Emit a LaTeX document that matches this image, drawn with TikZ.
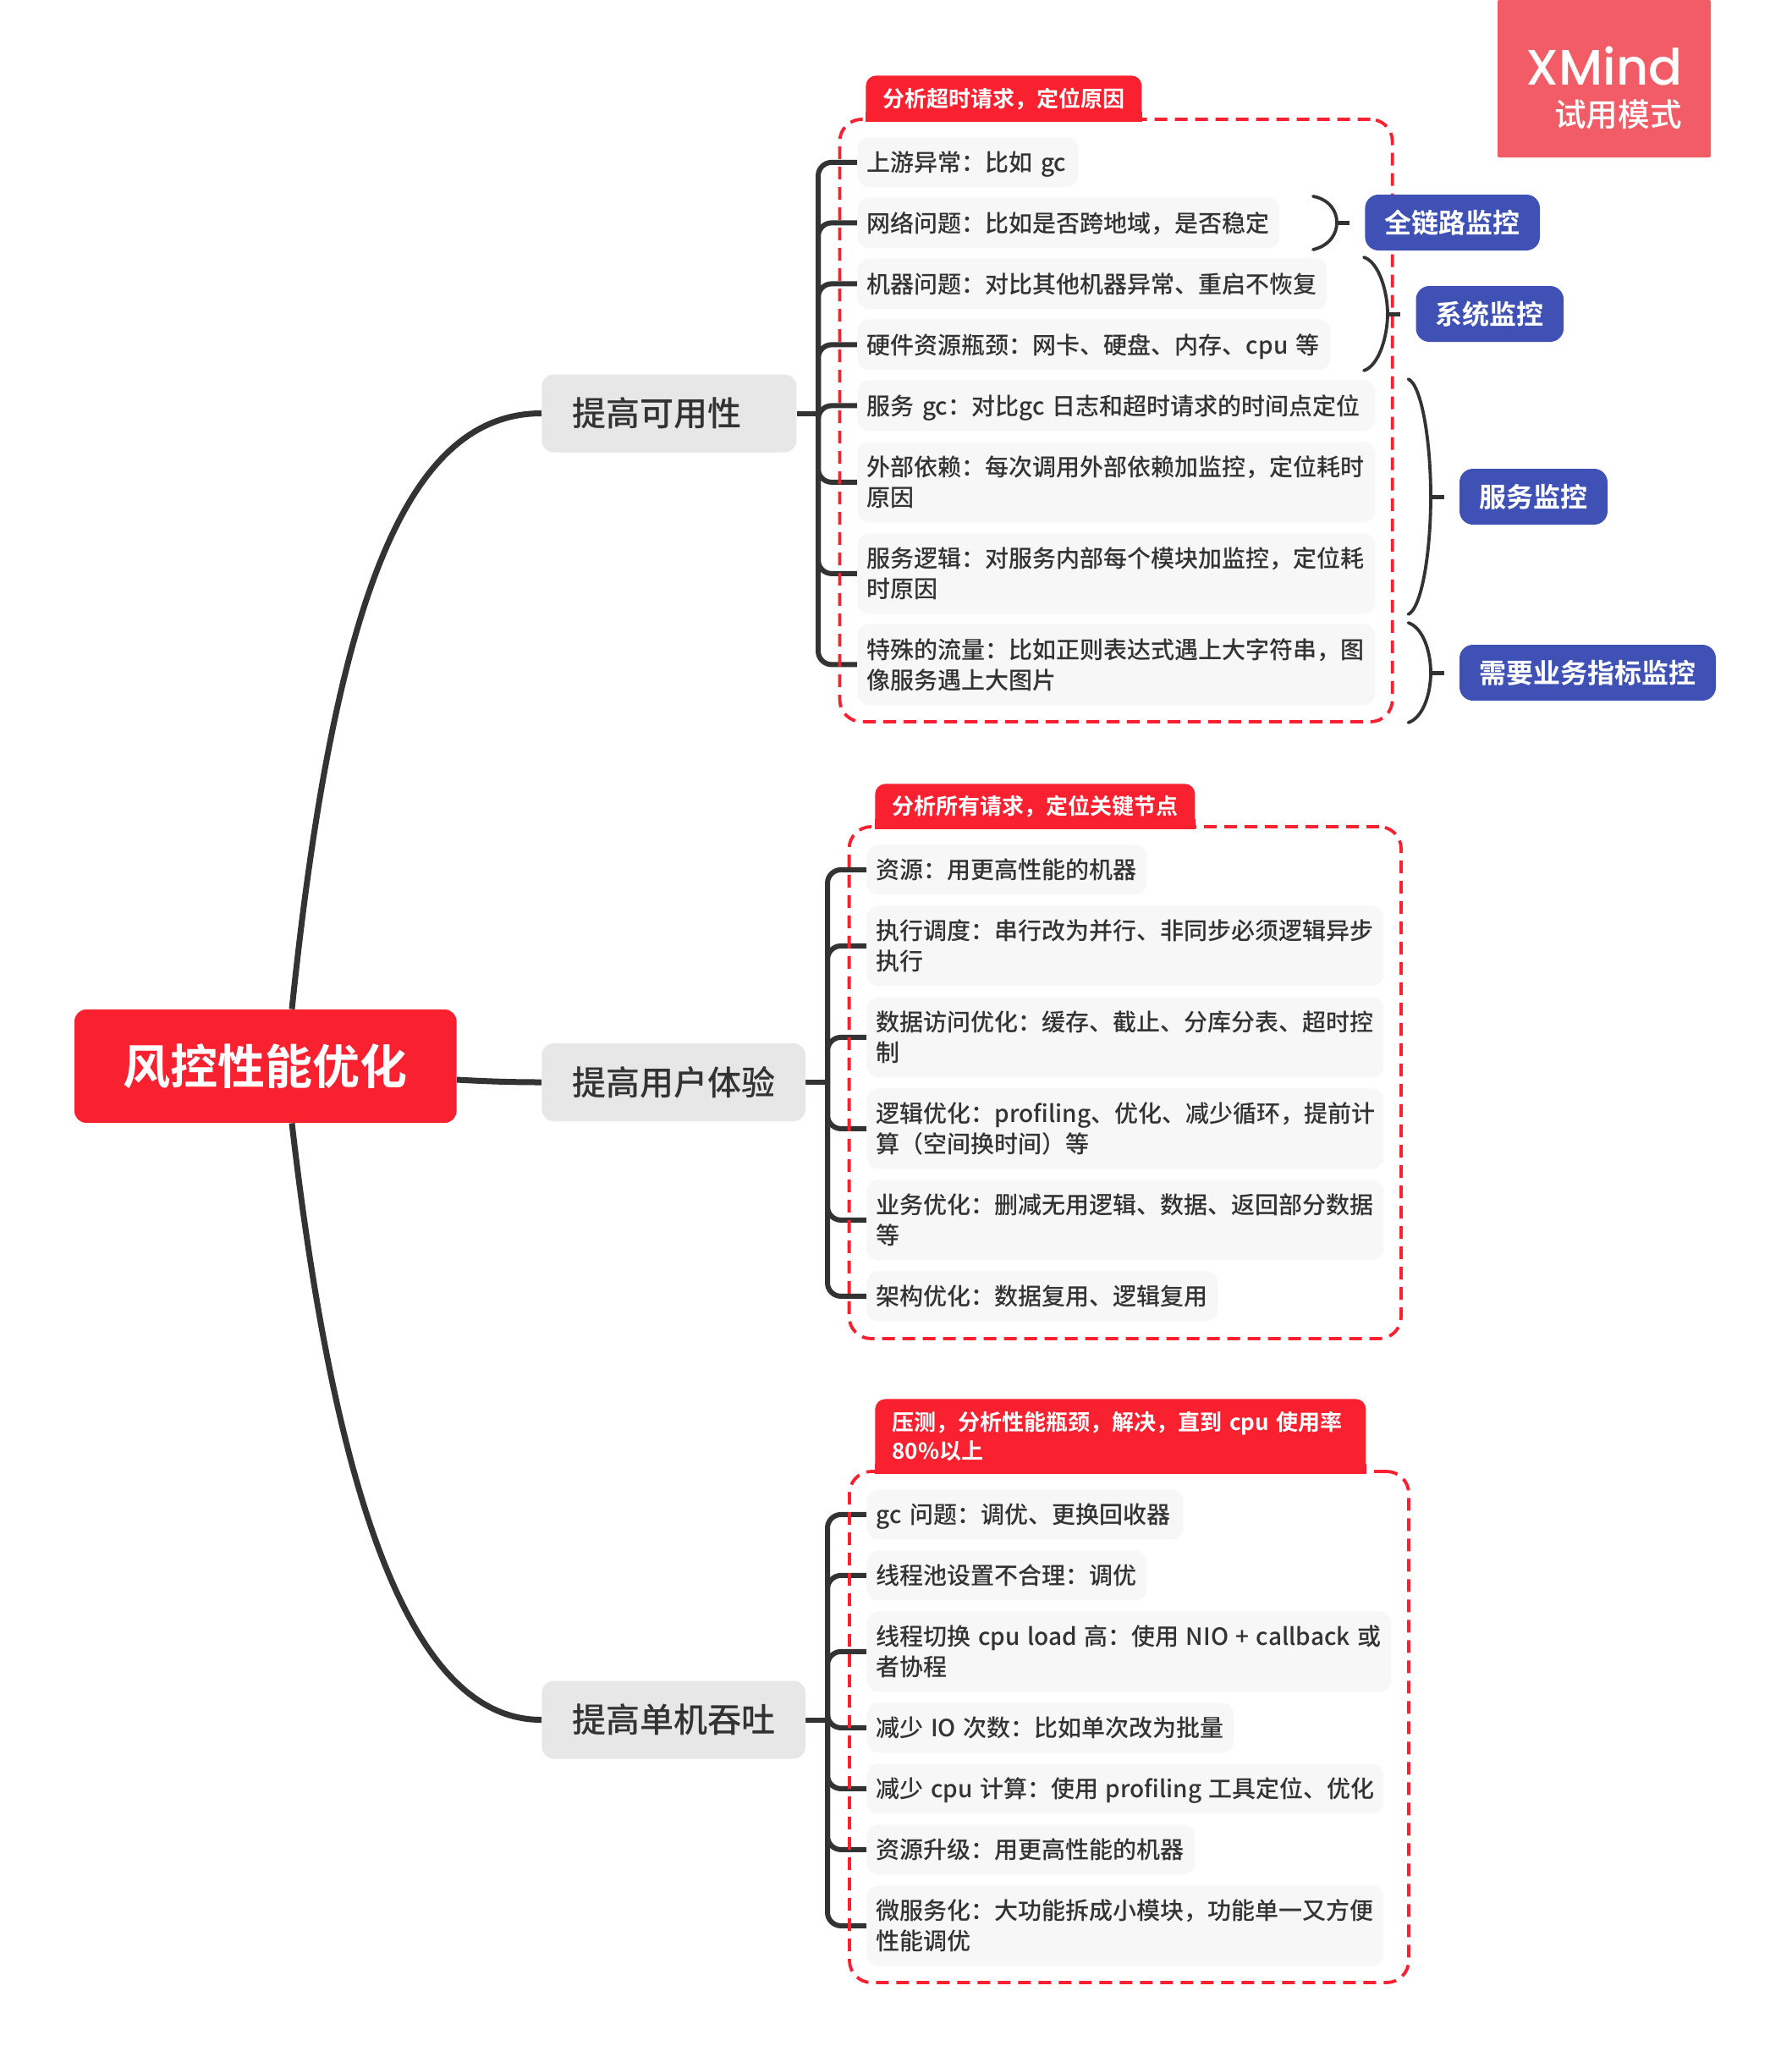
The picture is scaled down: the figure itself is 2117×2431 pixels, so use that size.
\documentclass[tikz,border=0pt]{standalone}
\usepackage{fontspec}
\setmainfont{Noto Sans CJK SC Medium}[BoldFont={Noto Sans CJK SC Bold}]
\newfontfamily\xmfont{Poppins Medium}
\usetikzlibrary{backgrounds}
\definecolor{ink}{HTML}{333333}
\definecolor{leafgray}{HTML}{F7F7F7}
\definecolor{topicgray}{HTML}{E7E7E7}
\definecolor{xred}{HTML}{F9212F}
\definecolor{xblue}{HTML}{3F51B5}
\definecolor{wmred}{HTML}{F25C66}
\newcommand\leafstrut{\lefthyphenmin=62\hyphenpenalty=10000\exhyphenpenalty=10000\rule[-3.7pt]{0pt}{18pt}}
\newcommand\leaftight{\spaceskip=4.2pt\relax\leafstrut}
\newcommand\leafend{\rule[-3.7pt]{0pt}{18pt}}
\newcommand\labelstrut{\rule[-3.56pt]{0pt}{17pt}}
\tikzset{
  leaf/.style 2 args={anchor=north west,fill=leafgray,text=ink,rounded corners=7pt,inner xsep=5.75pt,inner ysep=0pt,
    text width={(#1-23)*0.5pt},minimum height={#2*0.5pt},align=left,font=\fontsize{14}{18}\selectfont,
    execute at begin node=\leafstrut,execute at end node=\leafend},
  tightspace/.style={execute at begin node=\leaftight},
  topic/.style={anchor=west,fill=topicgray,text=ink,rounded corners=7pt,inner xsep=18pt,inner ysep=0pt,
    text width={(#1-72)*0.5pt},minimum height=46pt,align=left,font=\fontsize{20}{24}\selectfont},
  rootbox/.style={fill=xred,text=white,rounded corners=7pt,inner sep=0pt,font=\fontsize{28}{32}\selectfont\bfseries},
  callout/.style={fill=xblue,text=white,rounded corners=8pt,inner sep=0pt,minimum height=33pt,font=\fontsize{16}{20}\selectfont\bfseries},
  labelbox/.style 2 args={anchor=north west,fill=xred,text=white,rounded corners=6pt,inner xsep=10pt,inner ysep=0pt,
    text width={(#1-40)*0.5pt},minimum height={#2*0.5pt},align=left,font=\fontsize{13}{17}\selectfont\bfseries,
    execute at begin node=\labelstrut,execute at end node=\labelstrut},
  dashbox/.style={anchor=north west,draw=xred,line width=1.9pt,rounded corners=13pt,inner sep=0pt,outer sep=0pt,dash pattern=on 7.5pt off 4.5pt},
  branch/.style={draw=ink,line width=3pt,rounded corners=8pt},
  stem/.style={draw=ink,line width=3pt},
  maincurve/.style={draw=ink,line width=3.5pt},
  bracket/.style={draw=ink,line width=1.9pt,line cap=round},
  tick/.style={draw=ink,line width=2.5pt,shorten >=9pt},
}
\begin{document}
\begin{tikzpicture}[x=0.5pt,y=-0.5pt]
\useasboundingbox (0,0) rectangle (2117,2431);

% watermark
\node[fill=wmred,rounded corners=1pt,inner sep=0pt,minimum width=126pt,minimum height=93pt] (wm) at (1896,93) {};
\node[anchor=east,inner sep=0pt,text=white,font=\xmfont\fontsize{29.5}{32}\selectfont] (wmx) at (1989,78) {XMind};
\node[anchor=east,inner sep=0pt,text=white,font=\fontsize{18.8}{22}\selectfont] (wmt) at (1988,135) {试用模式};

% root and topics
\node[rootbox,minimum width=225.8pt,minimum height=67pt] (root) at (313.8,1260) {风控性能优化};
\node[topic={301}] (p1) at (640,488.5) {提高可用性};
\node[topic={311.6}] (p2) at (640,1279) {提高用户体验};
\node[topic={311.6}] (p3) at (640,2032.5) {提高单机吞吐};

% group 1 leaves
\node[leaf={261}{59}] (a1) at (1013,162) {上游异常：比如~gc};
\node[leaf={499}{60}] (a2) at (1013,233) {网络问题：比如是否跨地域，是否稳定};
\node[leaf={555}{60}] (a3) at (1013,305) {机器问题：对比其他机器异常、重启不恢复};
\node[leaf={559}{60}] (a4) at (1013,377) {硬件资源瓶颈：网卡、硬盘、内存、cpu~等};
\node[leaf={612}{60}] (a5) at (1013,449) {服务~gc：对比gc~日志和超时请求的时间点定位};
\node[leaf={612}{95}] (a6) at (1013,522) {外部依赖：每次调用外部依赖加监控，定位耗时\\原因};
\node[leaf={612}{95}] (a7) at (1013,630) {服务逻辑：对服务内部每个模块加监控，定位耗\\时原因};
\node[leaf={612}{96}] (a8) at (1013,737) {特殊的流量：比如正则表达式遇上大字符串，图\\像服务遇上大图片};

% group 2 leaves
\node[leaf={331}{59}] (b1) at (1024,998) {资源：用更高性能的机器};
\node[leaf={611}{95}] (b2) at (1024,1070) {执行调度：串行改为并行、非同步必须逻辑异步\\执行};
\node[leaf={611}{95}] (b3) at (1024,1178) {数据访问优化：缓存、截止、分库分表、超时控\\制};
\node[leaf={611}{95}] (b4) at (1024,1286) {逻辑优化：profiling、优化、减少循环，提前计\\算（空间换时间）等};
\node[leaf={611}{95}] (b5) at (1024,1394) {业务优化：删减无用逻辑、数据、返回部分数据\\等};
\node[leaf={415}{59}] (b6) at (1024,1502) {架构优化：数据复用、逻辑复用};

% group 3 leaves
\node[leaf={374}{59}] (c1) at (1024,1760) {gc~问题：调优、更换回收器};
\node[leaf={331}{59}] (c2) at (1024,1832) {线程池设置不合理：调优};
\node[leaf={620}{95},tightspace] (c3) at (1024,1904) {线程切换~cpu~load~高：使用~NIO~+~callback~或\\者协程};
\node[leaf={434}{59},tightspace] (c4) at (1024,2012) {减少~IO~次数：比如单次改为批量};
\node[leaf={611}{59},tightspace] (c5) at (1024,2084) {减少~cpu~计算：使用~profiling~工具定位、优化};
\node[leaf={388}{59}] (c6) at (1024,2156) {资源升级：用更高性能的机器};
\node[leaf={611}{95}] (c7) at (1024,2228) {微服务化：大功能拆成小模块，功能单一又方便\\性能调优};

% trunk junctions
\coordinate (t1) at (967,488.5);
\coordinate (t2) at (978,1279);
\coordinate (t3) at (978,2032.5);

\begin{pgfonlayer}{background}
  \fill[white] (0,0) rectangle (2117,2431);
  % main curves
  \draw[maincurve] ([xshift=15.6pt]root.north) .. controls (395,710) and (480,488.5) .. (p1.west);
  \draw[maincurve] (root.east |- 0,1276) .. controls (575,1278) and (605,1279) .. (p2.west);
  \draw[maincurve] ([xshift=15.6pt]root.south) .. controls (405,1850) and (510,2032.5) .. (p3.west);
  % stems
  \draw[stem] (p1.east) -- (t1);
  \draw[stem] (p2.east) -- (t2);
  \draw[stem] (p3.east) -- (t3);
  % branches
  \foreach \n in {a1,a2,a3,a4,a5,a6,a7,a8} \draw[branch] (t1) |- (\n.west);
  \foreach \n in {b1,b2,b3,b4,b5,b6} \draw[branch] (t2) |- (\n.west);
  \foreach \n in {c1,c2,c3,c4,c5,c6,c7} \draw[branch] (t3) |- (\n.west);
  % boundaries
  \node[dashbox,minimum width=326.6pt,minimum height=356pt] (g1) at (992.5,141) {};
  \node[dashbox,minimum width=326.2pt,minimum height=302.5pt] (g2) at (1003.6,977) {};
  \node[dashbox,minimum width=330.5pt,minimum height=302pt] (g3) at (1004,1739) {};
\end{pgfonlayer}

% boundary labels
\node[labelbox={326}{54}] (l1) at (1023,89) {分析超时请求，定位原因};
\fill[xred] (l1.south west) rectangle ([yshift=6pt]l1.south east);
\node[labelbox={378}{53}] (l2) at (1034,926) {分析所有请求，定位关键节点};
\fill[xred] (l2.south west) rectangle ([yshift=6pt]l2.south east);
\node[labelbox={580}{88}] (l3) at (1034,1653) {压测，分析性能瓶颈，解决，直到~cpu~使用率\\80\%以上};
\fill[xred] (l3.south west) rectangle ([yshift=6pt]l3.south east);

% callouts
\node[callout,minimum width=103.3pt] (s1) at (1716.7,263) {全链路监控};
\node[callout,minimum width=87.3pt] (s2) at (1760.8,371) {系统监控};
\node[callout,minimum width=87.5pt] (s3) at (1812.5,587) {服务监控};
\node[callout,minimum width=151.5pt] (s4) at (1876.5,795) {需要业务指标监控};

% summary brackets
\coordinate (m1) at (1580,263);
\coordinate (m2) at (1640,371);
\coordinate (m3) at (1691,587);
\coordinate (m4) at (1691,795);
\draw[bracket] (1552,232) .. controls (1572,236) and (1580,250) .. (m1) .. controls (1580,276) and (1572,290) .. (1552,295);
\draw[bracket] (1612,304) .. controls (1630,310) and (1640,345) .. (m2) .. controls (1640,397) and (1630,432) .. (1612,438);
\draw[bracket] (1664.5,448) .. controls (1680,455) and (1691,520) .. (m3) .. controls (1691,654) and (1680,719) .. (1664.5,726);
\draw[bracket] (1664.5,736) .. controls (1682,742) and (1691,770) .. (m4) .. controls (1691,820) and (1682,848) .. (1664.5,854);
\draw[tick] (m1) -- (s1.west);
\draw[tick] (m2) -- (s2.west);
\draw[tick] (m3) -- (s3.west);
\draw[tick] (m4) -- (s4.west);
\end{tikzpicture}
\end{document}
